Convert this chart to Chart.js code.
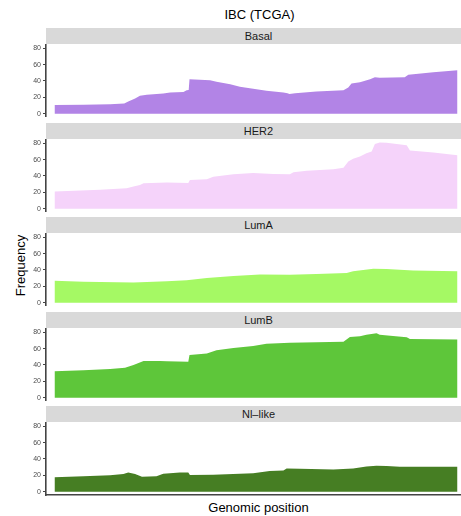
<!DOCTYPE html>
<html><head><meta charset="utf-8">
<script src="https://cdn.jsdelivr.net/npm/chart.js@4.4.0/dist/chart.umd.min.js"></script>
<style>
html,body{margin:0;padding:0;background:#fff;}
body{width:461px;height:516px;overflow:hidden;position:relative;font-family:"Liberation Sans",Arial,sans-serif;}
.strip{position:absolute;left:46px;width:425px;height:16px;background:#d9d9d9;color:#1a1a1a;font-size:11px;line-height:17px;text-align:center;}
canvas{position:absolute;left:0;}
#title{position:absolute;left:0;width:519px;top:8px;text-align:center;font-size:13px;line-height:13px;color:#000;}
#xlab{position:absolute;left:0;width:517px;top:501px;text-align:center;font-size:13px;line-height:13px;color:#000;}
#ylab{position:absolute;left:-54.7px;top:258.5px;width:150px;height:13px;text-align:center;font-size:13px;line-height:13px;color:#000;transform:rotate(-90deg);}
</style></head>
<body>
<div id="title">IBC (TCGA)</div>
<div id="ylab">Frequency</div>
<div id="xlab">Genomic position</div>
<script>
// ---- data ----
const subtypes = ['Basal', 'HER2', 'LumA', 'LumB', 'Nl\u2013like'];
const yTickValues = [0, 20, 40, 60, 80];

const basalPos  = [0, 7.2, 13.8, 17.3, 18.3, 20.0, 21.2, 22.9, 27.0, 28.7, 32.0, 32.8, 33.3, 33.5, 38.6, 40.2, 43.6, 46.0, 49.3, 52.6, 56.8, 57.8, 58.3, 59.7, 65.0, 71.7, 72.9, 73.7, 75.8, 78.3, 79.5, 80.7, 86.9, 87.8, 94.0, 100];
const basalFreq = [10.5, 11, 11.5, 12.5, 15, 18.5, 22, 23, 24.5, 26, 26.5, 28.5, 29, 42, 41, 39, 36, 33, 30.5, 28, 26, 25, 24, 25, 27, 28.5, 32, 37, 38.5, 42, 44.5, 44, 44.5, 47.5, 50.5, 53];

const her2Pos  = [0, 11.3, 17.9, 19.6, 21.2, 22.1, 27.9, 33.2, 33.6, 37.8, 39.4, 44.4, 49.3, 54.3, 58.4, 59.3, 62.6, 69.2, 71.7, 72.9, 74.1, 75.8, 77.4, 78.7, 79.5, 80.7, 82.4, 84.9, 87.4, 88.2, 94.0, 100];
const her2Freq = [21, 23, 25, 27, 29, 31, 32, 31.5, 35, 36, 39, 42, 43.5, 42.5, 42, 44.5, 46.5, 48.3, 50, 57.6, 61, 63.7, 67.8, 70, 79, 81, 80.5, 79, 77.5, 71, 68.6, 65.4];

const lumAPos  = [0, 7.2, 19.6, 27.9, 32.8, 37.8, 44.4, 51.0, 58.4, 65.0, 72.5, 74.1, 79.1, 82.4, 89.0, 100];
const lumAFreq = [26.7, 25.5, 24.6, 26.3, 27.5, 30.3, 32.7, 34.3, 34, 35, 36.4, 38.4, 41.6, 41.2, 39.2, 38.4];

const lumBPos  = [0, 7.2, 13.8, 17.5, 19.6, 22.1, 26.2, 27.9, 33.2, 33.5, 37.8, 40.2, 44.4, 49.3, 52.6, 58.4, 65.0, 71.7, 73.3, 75.8, 77.4, 79.9, 80.7, 84.0, 87.4, 88.2, 100];
const lumBFreq = [32.2, 33.5, 35, 36.7, 40, 44.9, 44.9, 44.5, 44, 52.2, 53.9, 58, 60.8, 63.2, 66, 67.3, 67.7, 68.5, 74.3, 75, 77, 78.7, 77, 75.5, 73.8, 71.8, 71];

const nlPos  = [0, 7.2, 13.8, 17.1, 18.3, 20.0, 21.7, 25.3, 27.0, 31.1, 33.2, 33.6, 39.4, 49.3, 53.4, 56.8, 57.6, 60.9, 69.2, 74.1, 77.4, 79.9, 82.4, 85.7, 100];
const nlFreq = [17.5, 18.8, 20, 21.7, 23.3, 21.7, 18.3, 18.8, 22, 23.3, 23.3, 20.4, 20.8, 22.5, 25.4, 25.8, 28.3, 28, 27, 28.3, 30.8, 31.7, 31.3, 30.4, 30.4];

// ---- styles / layout ----
const fillColors = ['#b284e6', '#f5d3fa', '#a5f964', '#5ec63a', '#467e23'];
const panelTop = [44, 139, 233, 328, 422];
const panelH = 73;

const series = [[basalPos, basalFreq], [her2Pos, her2Freq], [lumAPos, lumAFreq], [lumBPos, lumBFreq], [nlPos, nlFreq]];

series.forEach(([pos, freq], i) => {
  const strip = document.createElement('div');
  strip.className = 'strip';
  strip.style.top = (panelTop[i] - 16) + 'px';
  strip.textContent = subtypes[i];
  document.body.appendChild(strip);

  const isLast = i === series.length - 1;
  const h = panelH + (isLast ? 4 : 0);
  const cv = document.createElement('canvas');
  cv.width = 471; cv.height = h;
  cv.style.width = '471px'; cv.style.height = h + 'px';
  cv.style.top = panelTop[i] + 'px';
  document.body.appendChild(cv);

  new Chart(cv, {
    type: 'line',
    data: { datasets: [{
      data: pos.map((x, k) => ({ x: x, y: freq[k] })),
      fill: 'origin', backgroundColor: fillColors[i], borderWidth: 0, borderColor: fillColors[i],
      pointRadius: 0, tension: 0
    }]},
    options: {
      responsive: false, animation: false, devicePixelRatio: 1,
      layout: { padding: 0 },
      plugins: { legend: { display: false }, tooltip: { enabled: false } },
      scales: {
        x: {
          type: 'linear', min: -2.11, max: 103.35, display: isLast,
          grid: { display: false, drawTicks: false },
          ticks: { display: false },
          border: { display: true, color: '#444', width: 1.6 },
          afterFit(s) { s.height = isLast ? 4 : 0; s.paddingLeft = 0; s.paddingRight = 0; }
        },
        y: {
          type: 'linear', min: -4.1, max: 85.2,
          afterBuildTicks(s) { s.ticks = yTickValues.map(v => ({ value: v })); },
          ticks: { font: { family: 'Liberation Sans', size: 7 }, color: '#4d4d4d', padding: 2, autoSkip: false, callback: v => String(v) },
          grid: { drawOnChartArea: false, drawTicks: true, tickLength: 3, color: '#444', tickWidth: 1 },
          border: { display: true, color: '#444', width: 1.6 },
          afterFit(s) { s.width = 46; s.paddingTop = 0; s.paddingBottom = 0; }
        }
      }
    }
  });
});
</script>
</body></html>
